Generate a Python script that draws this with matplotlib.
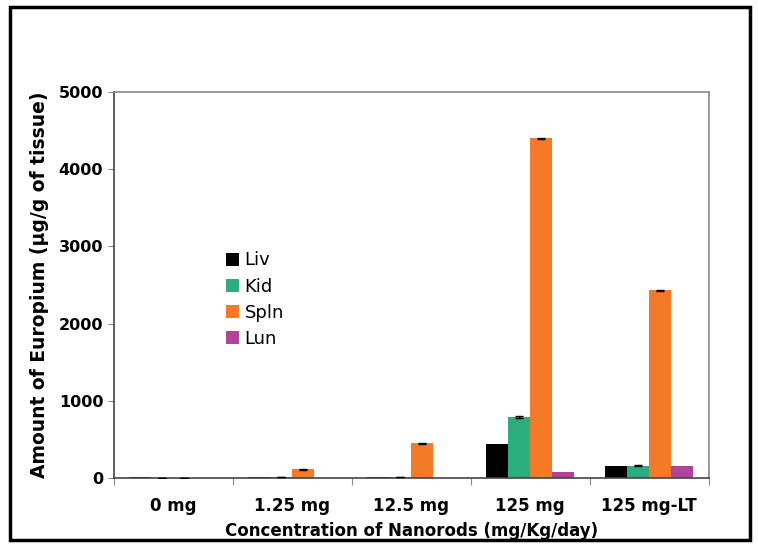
import matplotlib
matplotlib.use("Agg")
import matplotlib.pyplot as plt
import numpy as np
from matplotlib.patches import Rectangle

# данные
groups = ["0 mg", "1.25 mg", "12.5 mg", "125 mg", "125 mg-LT"]
organs = ["Liv", "Kid", "Spln", "Lun"]
liv = [5, 10, 5, 440, 160]
kid = [0, 5, 5, 790, 160]
spln = [0, 110, 450, 4400, 2430]
lun = [0, 3, 3, 70, 150]
spln_err = [0, 8, 8, 10, 8]
kid_err = [0, 0, 0, 8, 5]
colors = ["#000000", "#2aae80", "#f47a28", "#b0449a"]

fig = plt.figure(figsize=(7.58, 5.48), dpi=100)
ax = fig.add_axes([0.150, 0.128, 0.785, 0.704])

x = np.arange(len(groups))
w = 0.185
series = [liv, kid, spln, lun]
errs = [None, kid_err, spln_err, None]
for i, (vals, c, name) in enumerate(zip(series, colors, organs)):
    pos = x + (i - 1.5) * w
    ax.bar(pos, vals, width=w, color=c, label=name, zorder=2)
    if errs[i] is not None:
        ax.errorbar(pos, vals, yerr=errs[i], fmt="none", ecolor="black",
                    elinewidth=1, capsize=3, capthick=1, zorder=3)

ax.set_xlim(-0.5, len(groups) - 0.5)
ax.set_ylim(0, 5000)
ax.set_yticks([0, 1000, 2000, 3000, 4000, 5000])
ax.set_xticks(np.arange(-0.5, len(groups), 1.0))
ax.set_xticklabels([])
ax.set_xticks(x, minor=True)
ax.set_xticklabels(groups, minor=True, fontsize=12, fontweight="bold")
ax.tick_params(axis="x", which="minor", length=0, pad=14)
ax.tick_params(axis="x", which="major", length=5, color="#888888")
ax.tick_params(axis="y", length=4, color="#888888", labelsize=11.5)
for lab in ax.get_yticklabels():
    lab.set_fontweight("bold")

for s in ax.spines.values():
    s.set_color("#888888")
    s.set_linewidth(1.2)
ax.spines["left"].set_color("#444444")
ax.spines["bottom"].set_color("#444444")

ax.set_ylabel("Amount of Europium (µg/g of tissue)", fontsize=13.5,
              fontweight="bold", labelpad=7)
ax.set_xlabel("Concentration of Nanorods (mg/Kg/day)", fontsize=12,
              fontweight="bold", labelpad=5)

ax.legend(loc="upper left", bbox_to_anchor=(0.17, 0.615), frameon=False,
          fontsize=13, handlelength=0.75, handleheight=0.75, handletextpad=0.3,
          labelspacing=0.45, borderaxespad=0.2)

fig.patches.append(Rectangle((0.013, 0.015), 0.976, 0.972, transform=fig.transFigure,
                             fill=False, edgecolor="black", linewidth=2.5))

fig.savefig("out.png", dpi=100)
